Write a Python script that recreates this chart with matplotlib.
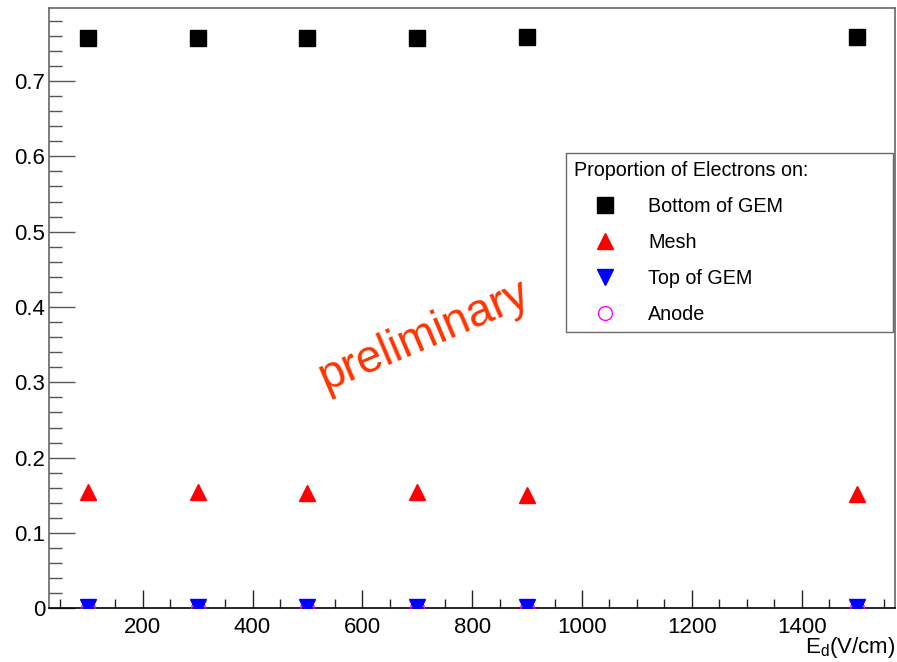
import matplotlib
matplotlib.use("Agg")
import matplotlib.pyplot as plt
from matplotlib.ticker import MultipleLocator
from matplotlib.lines import Line2D

plt.rcParams['font.family'] = ['Liberation Sans', 'DejaVu Sans']

# Drift field (V/cm)
drift_field = [100, 300, 500, 700, 900, 1500]

# Fraction of electrons collected on each electrode
bottom_gem = [0.757, 0.757, 0.757, 0.757, 0.759, 0.759]
mesh = [0.155, 0.154, 0.153, 0.155, 0.150, 0.152]
top_gem = [0.002, 0.002, 0.002, 0.002, 0.002, 0.002]
anode = [0.0005, 0.0005, 0.0005, 0.0005, 0.0005, 0.0005]

series_labels = ["Bottom of GEM", "Mesh", "Top of GEM", "Anode"]
legend_title = "Proportion of Electrons on:"

fig = plt.figure(figsize=(8.97, 6.62), dpi=100)
ax = fig.add_axes([0.055, 0.0811, 0.9428, 0.9069])

ax.plot(drift_field, anode, linestyle='none', marker='o', markersize=10,
        markerfacecolor='none', markeredgecolor='#ff00ff', markeredgewidth=1.0, zorder=3)
ax.plot(drift_field, bottom_gem, linestyle='none', marker='s', markersize=11,
        color='black', zorder=4)
ax.plot(drift_field, mesh, linestyle='none', marker='^', markersize=11,
        color='#ff0000', zorder=4)
ax.plot(drift_field, top_gem, linestyle='none', marker='v', markersize=11,
        color='#0000ff', zorder=5)

ax.set_xlim(30, 1570)
ax.set_ylim(0, 0.797)

ax.xaxis.set_major_locator(MultipleLocator(200))
ax.xaxis.set_minor_locator(MultipleLocator(50))
ax.yaxis.set_major_locator(MultipleLocator(0.1))
ax.yaxis.set_minor_locator(MultipleLocator(0.02))

def fmt_y(v, pos):
    return "0" if abs(v) < 1e-9 else f"{v:.1f}"
ax.yaxis.set_major_formatter(plt.FuncFormatter(fmt_y))

ax.tick_params(axis='both', which='both', direction='in', top=False, right=False,
               labelsize=16)
ax.tick_params(axis='y', which='major', length=19, width=1, color='#555555', pad=3)
ax.tick_params(axis='y', which='minor', length=9.5, width=1, color='#555555')
ax.tick_params(axis='x', which='major', length=13, width=1, color='#222222', pad=6)
ax.tick_params(axis='x', which='minor', length=6.5, width=1, color='#222222')

for side in ('left', 'top', 'right'):
    ax.spines[side].set_color('#666666')
    ax.spines[side].set_linewidth(1.2)
ax.spines['bottom'].set_color('black')
ax.spines['bottom'].set_linewidth(1.2)

fig.text(0.998, 0.003, r"E$_{\mathregular{d}}$(V/cm)", ha='right', va='bottom', fontsize=16)

ax.text(711, 0.362, "preliminary", color='#ff3300', fontsize=33, rotation=23,
        ha='center', va='center', rotation_mode='anchor')

handles = [
    Line2D([], [], linestyle='none', marker='s', markersize=11, color='black'),
    Line2D([], [], linestyle='none', marker='^', markersize=11, color='#ff0000'),
    Line2D([], [], linestyle='none', marker='v', markersize=11, color='#0000ff'),
    Line2D([], [], linestyle='none', marker='o', markersize=10,
           markerfacecolor='none', markeredgecolor='#ff00ff'),
]
leg = fig.legend(handles, series_labels, title=legend_title,
                 loc='upper left',
                 bbox_to_anchor=(566 / 897, (662 - 331) / 662, (893 - 566) / 897, (331 - 153) / 662),
                 mode='expand',
                 fontsize=14.2, title_fontsize=14.2, frameon=True, fancybox=False,
                 borderpad=0.4, labelspacing=0.86, handletextpad=0.61,
                 handlelength=3.15, borderaxespad=0)
leg._legend_box.align = "left"
frame = leg.get_frame()
frame.set_edgecolor('#444444')
frame.set_linewidth(1.0)
frame.set_boxstyle('square', pad=0)

fig.savefig("out.png", dpi=100)
